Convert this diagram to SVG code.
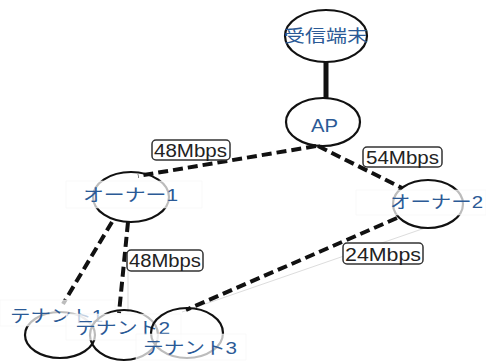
<svg xmlns="http://www.w3.org/2000/svg" width="486" height="363" viewBox="0 0 486 363">
<style>
.node{fill:none;stroke:#111;stroke-width:2.2}
.band{fill:#fff;fill-opacity:0.72;stroke:#f3f3f3;stroke-width:0.5}
.jp{font-family:"Liberation Sans","Noto Sans CJK JP",sans-serif;font-size:17px;fill:#2b5a96}
.edge{stroke:#111;stroke-width:4;stroke-dasharray:10 5;fill:none}
.lbox{fill:#fff;stroke:#333;stroke-width:1.5}
.ltxt{font-family:"Liberation Sans",sans-serif;font-size:18px;fill:#222}
</style>
<rect width="486" height="363" fill="#fff"/>
<g id="connectors">
<line x1="425" y1="228" x2="182" y2="312" stroke="#ddd" stroke-width="1"/>
<line x1="128" y1="268" x2="128" y2="312" stroke="#ddd" stroke-width="1"/>
<line x1="326" y1="61" x2="326" y2="99" stroke="#111" stroke-width="5"/>
<line class="edge" x1="316" y1="146" x2="138" y2="176"/>
<line class="edge" x1="318" y1="146" x2="402" y2="188"/>
<line class="edge" x1="112" y1="222" x2="63" y2="304"/>
<line class="edge" x1="128" y1="222" x2="119" y2="313"/>
<line class="edge" x1="397" y1="218" x2="186" y2="310"/>
<g id="label-48a"><rect class="lbox" x="152" y="140" width="78" height="20" rx="4"/><text class="ltxt" x="154" y="157" textLength="73" lengthAdjust="spacingAndGlyphs">48Mbps</text></g>
<g id="label-54"><rect class="lbox" x="363" y="147" width="79" height="20" rx="4"/><text class="ltxt" x="366" y="164" textLength="73" lengthAdjust="spacingAndGlyphs">54Mbps</text></g>
<g id="label-48b"><rect class="lbox" x="127" y="250" width="76" height="21" rx="4"/><text class="ltxt" x="129" y="267" textLength="72" lengthAdjust="spacingAndGlyphs">48Mbps</text></g>
<g id="label-24"><rect class="lbox" x="343" y="243" width="80" height="21" rx="4"/><text class="ltxt" x="345" y="261" textLength="76" lengthAdjust="spacingAndGlyphs">24Mbps</text></g>
</g>
<g id="n-terminal"><ellipse class="node" cx="326" cy="36" rx="41" ry="26"/><text class="jp" x="284" y="42" textLength="84" lengthAdjust="spacingAndGlyphs">受信端末</text></g>
<g id="n-ap"><ellipse class="node" cx="323" cy="122" rx="37" ry="24"/><text class="jp" x="311" y="132" textLength="27" lengthAdjust="spacingAndGlyphs" style="font-size:18px">AP</text></g>
<g id="n-owner1"><ellipse class="node" cx="131" cy="197" rx="38" ry="25"/><rect class="band" x="66" y="181" width="136" height="27"/><text class="jp" x="83" y="201" textLength="95" lengthAdjust="spacingAndGlyphs">オーナー1</text></g>
<g id="n-owner2"><ellipse class="node" cx="428" cy="204" rx="35" ry="24"/><rect class="band" x="356" y="190" width="130" height="25"/><text class="jp" x="390" y="208" textLength="93" lengthAdjust="spacingAndGlyphs">オーナー2</text></g>
<g id="n-tenant1"><ellipse class="node" cx="60" cy="335" rx="35" ry="23"/><rect class="band" x="0" y="300" width="115" height="26"/><text class="jp" x="10" y="322" textLength="93" lengthAdjust="spacingAndGlyphs">テナント1</text></g>
<g id="n-tenant2"><ellipse class="node" cx="124" cy="335" rx="34" ry="25"/><rect class="band" x="66" y="314" width="115" height="26"/><text class="jp" x="75" y="334" textLength="95" lengthAdjust="spacingAndGlyphs">テナント2</text></g>
<g id="n-tenant3"><ellipse class="node" cx="187" cy="333" rx="36" ry="25"/><rect class="band" x="136" y="334" width="110" height="26"/><text class="jp" x="143" y="354" textLength="94" lengthAdjust="spacingAndGlyphs">テナント3</text></g>
</svg>
